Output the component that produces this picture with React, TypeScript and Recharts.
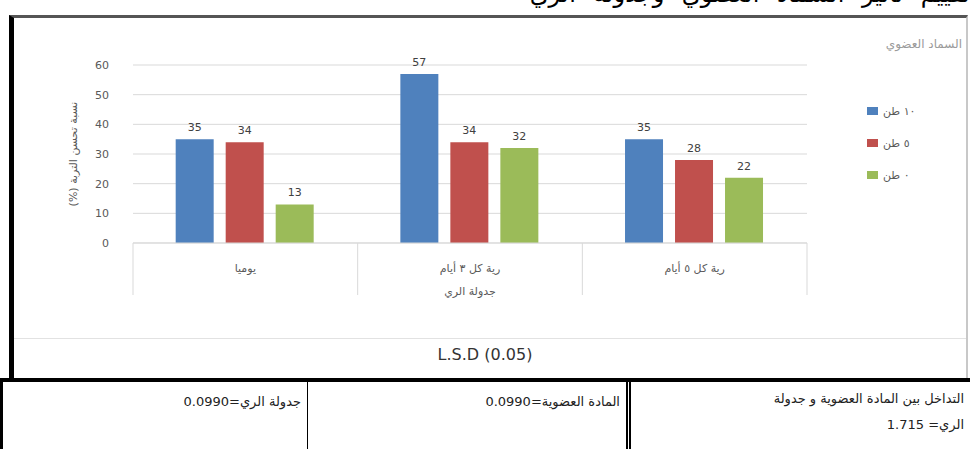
import { BarChart, Bar, XAxis, YAxis, CartesianGrid, LabelList, Label } from "recharts";

// جدولة الري
const schedules = ["يوميا", "رية كل ٣ أيام", "رية كل ٥ أيام"];
// السماد العضوي (طن)
const series = [
  { key: "t10", name: "١٠ طن", color: "#4F81BD" },
  { key: "t5", name: "٥ طن", color: "#C0504D" },
  { key: "t0", name: "٠ طن", color: "#9BBB59" },
];
const t10 = [35, 57, 35];
const t5 = [34, 34, 28];
const t0 = [13, 32, 22];
const yTicks = [0, 10, 20, 30, 40, 50, 60];

const data = schedules.map((name, i) => ({ name, t10: t10[i], t5: t5[i], t0: t0[i] }));

const AR = "'DejaVu Sans', sans-serif";
const PLOT_LEFT = 133;
const PLOT_RIGHT = 807;
const BAND = (PLOT_RIGHT - PLOT_LEFT) / schedules.length;

const CategoryTick = ({ x, y, payload, index }: any) => (
  <g>
    <line x1={x - BAND / 2} y1={y} x2={x - BAND / 2} y2={y + 52} stroke="#d9d9d9" />
    {index === schedules.length - 1 && (
      <line x1={x + BAND / 2} y1={y} x2={x + BAND / 2} y2={y + 52} stroke="#d9d9d9" />
    )}
    <text x={x} y={y + 29} textAnchor="middle" fontSize={11} fill="#595959" fontFamily={AR} direction="rtl">
      {payload.value}
    </text>
  </g>
);

const LegendBox = () => (
  <div style={{ position: "absolute", left: 862, top: 37, width: 100, fontFamily: AR }}>
    <div style={{ textAlign: "right", fontSize: 12, color: "#9a9a9a", direction: "rtl" }}>السماد العضوي</div>
    <div style={{ marginTop: 44, marginLeft: 5 }}>
      {series.map((s) => (
        <div key={s.key} style={{ display: "flex", alignItems: "center", height: 32 }}>
          <span style={{ width: 11, height: 8, background: s.color, display: "inline-block", marginRight: 5 }} />
          <span style={{ fontSize: 11, color: "#595959", direction: "rtl" }}>{s.name}</span>
        </div>
      ))}
    </div>
  </div>
);

const cell: React.CSSProperties = {
  position: "absolute",
  top: 0,
  height: 68,
  boxSizing: "border-box",
  direction: "rtl",
  fontFamily: AR,
  fontSize: 13,
  color: "#222",
  padding: "6px 6px",
  lineHeight: "27px",
};

export default function App() {
  return (
    <div style={{ position: "absolute", left: 0, top: 0, width: 970, height: 449, background: "#fff", overflow: "hidden" }}>
      {/* سطر العنوان المقطوع أعلى الشكل */}
      <div
        style={{
          position: "absolute",
          right: 0,
          top: -20,
          fontFamily: AR,
          fontSize: 24,
          letterSpacing: 1.5,
          wordSpacing: 10,
          direction: "rtl",
          color: "#000",
          whiteSpace: "nowrap",
        }}
      >
        تقييم تأثير السماد العضوي وجدولة الري
      </div>

      {/* إطار الشكل */}
      <div
        style={{
          position: "absolute",
          left: 9,
          top: 15,
          width: 959,
          height: 366,
          boxSizing: "border-box",
          borderLeft: "5px solid #000",
          borderTop: "3px solid #555",
          borderRight: "2px solid #c8c8c8",
          background: "#fff",
        }}
      />
      <div style={{ position: "absolute", left: 14, top: 338, width: 952, height: 1, background: "#e2e2e2" }} />

      <div style={{ position: "absolute", left: 0, top: 0 }}>
        <BarChart
          width={970}
          height={330}
          data={data}
          margin={{ top: 65, right: 970 - PLOT_RIGHT, bottom: 37, left: PLOT_LEFT - 60 }}
          barGap={12}
          barCategoryGap="19%"
        >
          <CartesianGrid vertical={false} stroke="#d9d9d9" />
          <XAxis
            dataKey="name"
            height={50}
            axisLine={{ stroke: "#d9d9d9" }}
            tickLine={false}
            tickSize={0}
            tickMargin={0}
            tick={<CategoryTick />}
            interval={0}
          >
            <Label value="جدولة الري" position="insideBottom" offset={-2} fontSize={11} fill="#595959" fontFamily={AR} />
          </XAxis>
          <YAxis
            width={60}
            domain={[0, 60]}
            ticks={yTicks}
            axisLine={false}
            tickLine={false}
            tickSize={0}
            tickMargin={24}
            tick={{ fontSize: 11, fill: "#595959", fontFamily: AR }}
          >
            <Label
              content={({ viewBox }: any) => {
                const cx = viewBox.x + 4;
                const cy = viewBox.y + viewBox.height / 2;
                return (
                  <text
                    x={cx}
                    y={cy}
                    transform={`rotate(-90 ${cx} ${cy})`}
                    textAnchor="middle"
                    fontSize={11}
                    fill="#595959"
                    fontFamily={AR}
                    direction="rtl"
                  >
                    نسبة تحسن التربة (%)
                  </text>
                );
              }}
            />
          </YAxis>
          {series.map((s) => (
            <Bar key={s.key} dataKey={s.key} name={s.name} fill={s.color} isAnimationActive={false}>
              <LabelList dataKey={s.key} position="top" offset={8} fontSize={11} fill="#404040" fontFamily={AR} />
            </Bar>
          ))}
        </BarChart>
      </div>
      <LegendBox />

      <div
        style={{
          position: "absolute",
          left: 0,
          top: 345,
          width: 970,
          textAlign: "center",
          fontFamily: AR,
          fontSize: 16,
          color: "#333",
        }}
      >
        L.S.D (0.05)
      </div>

      {/* جدول قيم أقل فرق معنوي */}
      <div
        style={{
          position: "absolute",
          left: 0,
          top: 378,
          width: 970,
          height: 71,
          borderTop: "4px solid #000",
          borderLeft: "3px solid #000",
          boxSizing: "border-box",
        }}
      >
        <div style={{ ...cell, left: 0, width: 305, borderRight: "1px solid #000" }}>جدولة الري=0.0990</div>
        <div style={{ ...cell, left: 305, width: 318 }}>المادة العضوية=0.0990</div>
        <div style={{ ...cell, left: 623, width: 344, borderLeft: "5px double #000", lineHeight: "26px", paddingTop: 4 }}>
          التداخل بين المادة العضوية و جدولة
          <br />
          الري= 1.715
        </div>
      </div>
    </div>
  );
}
